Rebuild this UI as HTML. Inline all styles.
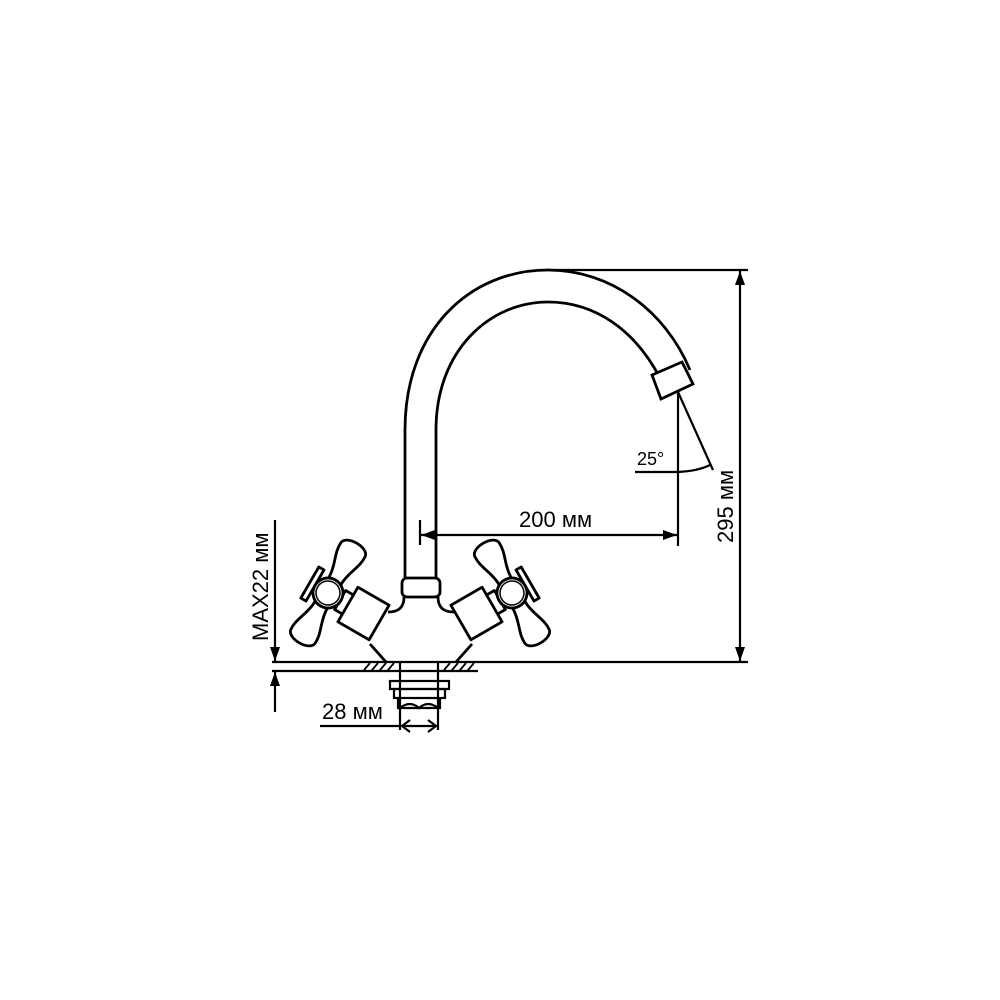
<!DOCTYPE html>
<html><head><meta charset="utf-8"><style>html,body{margin:0;padding:0;background:#fff}svg{display:block}</style></head>
<body>
<svg width="1000" height="1000" viewBox="0 0 1000 1000" xmlns="http://www.w3.org/2000/svg">
<defs>
<g id="hdl" fill="#fff" stroke="#000" stroke-width="2.8" stroke-linejoin="round">
  <path d="M-7,-14 C-7,-28 -15,-38 -14,-50 C-13,-60 13,-60 14,-50 C15,-38 7,-28 7,-14 Z"/>
  <path d="M-7,14 C-7,28 -15,38 -14,50 C-13,60 13,60 14,50 C15,38 7,28 7,14 Z"/>
  <rect x="-21" y="-18" width="6" height="36"/>
  <rect x="14" y="-11" width="10" height="22"/>
  <rect x="23" y="-20" width="36" height="40"/>
  <circle cx="0" cy="0" r="15"/>
  <circle cx="0" cy="0" r="12" fill="none" stroke-width="1.5"/>
</g>
<marker id="a" viewBox="0 0 14 10" refX="14" refY="5" markerWidth="14" markerHeight="10" markerUnits="userSpaceOnUse" orient="auto"><path d="M0,0 L14,5 L0,10 Z" fill="#000"/></marker>
</defs>
<g fill="none" stroke="#000" stroke-width="2.8">
  <path d="M405,578 L405,430 C405,330 470,270 548,270 C610,270 665,310 690,370"/>
  <path d="M436,578 L436,430 C436,350 490,302 548,302 C595,302 635,330 660,378"/>
  <path d="M652,375 L682,362 L693,384 L661,399 Z" fill="#fff"/>
  <rect x="402" y="578" width="38" height="19" rx="5" fill="#fff"/>
  <path d="M404,597 C404,608 398,612 388,612"/>
  <path d="M438,597 C438,608 444,612 454,612"/>
  <path d="M370,644 L386,662"/>
  <path d="M472,644 L456,662"/>
</g>
<use href="#hdl" transform="translate(328,593) rotate(30)"/>
<use href="#hdl" transform="translate(512,593) scale(-1,1) rotate(30)"/>
<g fill="none" stroke="#000" stroke-width="2.2">
  <line x1="272" y1="662" x2="748" y2="662"/>
  <line x1="272" y1="671" x2="478" y2="671"/>
  <path d="M364,670 l6,-7 M372,670 l6,-7 M380,670 l6,-7 M388,670 l6,-7 M444,670 l6,-7 M452,670 l6,-7 M460,670 l6,-7 M468,670 l6,-7" stroke-width="1.8"/>
  <line x1="400" y1="662" x2="400" y2="730"/>
  <line x1="438" y1="662" x2="438" y2="730"/>
  <rect x="390" y="681" width="59" height="8"/>
  <rect x="394" y="689" width="51" height="9"/>
  <path d="M398,698 L398,708 L440,708 L440,698"/>
  <path d="M400,708 Q410,700 419,708 Q428,700 438,708"/>
  <line x1="320" y1="726" x2="400" y2="726"/>
  <line x1="402" y1="726" x2="436" y2="726"/>
  <path d="M410,720 L402,726 L410,732 M428,720 L436,726 L428,732"/>
  <line x1="275" y1="520" x2="275" y2="661" marker-end="url(#a)"/>
  <line x1="275" y1="712" x2="275" y2="672" marker-end="url(#a)"/>
  <line x1="548" y1="270" x2="748" y2="270"/>
  <line x1="740" y1="330" x2="740" y2="271" marker-end="url(#a)"/>
  <line x1="740" y1="330" x2="740" y2="661" marker-end="url(#a)"/>
  <line x1="420" y1="520" x2="420" y2="545"/>
  <line x1="550" y1="535" x2="421" y2="535" marker-end="url(#a)"/>
  <line x1="550" y1="535" x2="677" y2="535" marker-end="url(#a)"/>
  <line x1="678" y1="392" x2="678" y2="546"/>
  <line x1="678" y1="392" x2="713" y2="470"/>
  <line x1="635" y1="472" x2="678" y2="472"/>
  <path d="M678,472 Q698,471 710,465"/>
</g>
<g font-family="Liberation Sans, sans-serif" fill="#000">
  <text x="519" y="527" font-size="22">200 мм</text>
  <text x="637" y="465" font-size="18">25°</text>
  <text x="322" y="719" font-size="22">28 мм</text>
  <text transform="translate(733,543) rotate(-90)" font-size="22">295 мм</text>
  <text transform="translate(268,641) rotate(-90)" font-size="22">MAX22 мм</text>
</g>
</svg>
</body></html>
